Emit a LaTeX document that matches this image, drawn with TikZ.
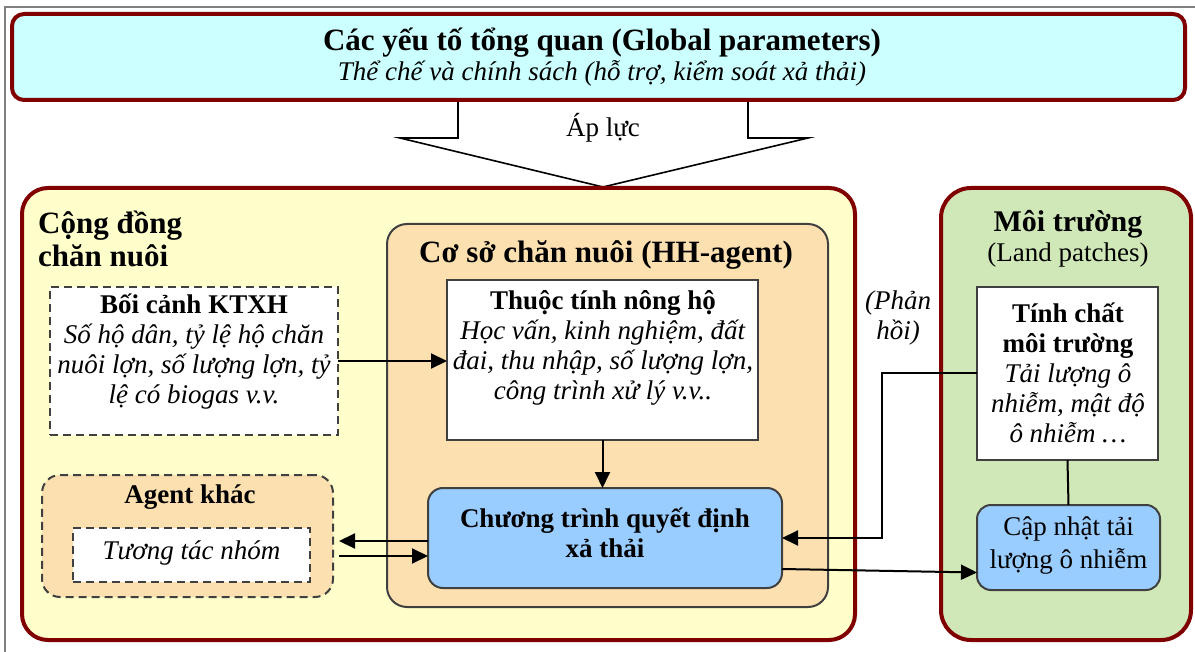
\documentclass[tikz,border=0pt]{standalone}
\usepackage{fontspec}
\setmainfont{Liberation Serif}
\usetikzlibrary{arrows.meta,calc}
\definecolor{dred}{RGB}{128,0,0}
\definecolor{cyanfill}{RGB}{204,255,255}
\definecolor{yelfill}{RGB}{255,255,204}
\definecolor{peach}{RGB}{252,224,176}
\definecolor{bluefill}{RGB}{153,204,255}
\definecolor{greenfill}{RGB}{208,232,184}
\definecolor{dgray}{RGB}{64,64,64}
\begin{document}
\begin{tikzpicture}[x=1pt,y=-1pt,
  base/.style={inner sep=0pt, outer sep=0pt},
  redbox/.style={base, draw=dred, line width=4pt, rounded corners=#1},
  graybox/.style={base, draw=dgray, line width=2pt, rounded corners=#1},
  whitebox/.style={base, draw=dgray, line width=2pt, fill=white},
  dashbox/.style={base, draw=dgray, line width=2pt, dash pattern=on 8pt off 5pt},
  txt/.style={inner sep=0pt, align=center, font=\fontsize{27}{30}\selectfont},
  head/.style={inner sep=0pt, align=center, font=\fontsize{31}{33}\selectfont\bfseries},
  arr/.style={line width=2pt, -{Triangle[length=16pt,width=15pt]}},
  link/.style={line width=2pt}
]
\useasboundingbox (0,0) rectangle (1195,652);
\fill[white] (0,0) rectangle (1195,652);
\draw[gray, line width=1.2pt] (5,652) -- (5,7) -- (1195,7);

% big pressure arrow
\draw[line width=1.6pt, fill=white, line join=miter]
  (458,100) -- (458,138) -- (400,138) -- (603,187) -- (808,138) -- (748,138) -- (748,100);
\node[txt] (ap) at (603,128) {Áp lực};

% top box
\node[redbox=12pt, fill=cyanfill, minimum width=1173pt, minimum height=86pt] (top) at (598.5,57) {};
\node[txt] (topT) at (602,57) {{\fontsize{31}{30}\selectfont\bfseries Các yếu tố tổng quan (Global parameters)}\\\textit{Thể chế và chính sách (hỗ trợ, kiểm soát xả thải)}};

% community box
\node[redbox=26pt, fill=yelfill, minimum width=833pt, minimum height=452pt] (comm) at (438.5,414) {};
\node[head, align=left, anchor=west] (commT) at (38,239) {Cộng đồng\\chăn nuôi};

% environment box
\node[redbox=30pt, fill=greenfill, minimum width=250pt, minimum height=452pt] (env) at (1066,414) {};
\node[txt] (envT) at (1068,239) {{\fontsize{30}{33}\selectfont\bfseries Môi trường}\\(Land patches)};

% HH-agent box
\node[graybox=20pt, fill=peach, minimum width=441pt, minimum height=383pt] (hh) at (607.5,415.5) {};
\node[head] (hhT) at (606,255) {Cơ sở chăn nuôi (HH-agent)};

% attributes box
\node[whitebox, minimum width=311pt, minimum height=160pt] (attr) at (602.5,360) {};
\node[txt] (attrT) at (603,348) {\textbf{Thuộc tính nông hộ}\\\textit{Học vấn, kinh nghiệm, đất}\\\textit{đai, thu nhập, số lượng lợn,}\\\textit{công trình xử lý v.v..}};

% decision box
\node[graybox=15pt, fill=bluefill, minimum width=354pt, minimum height=100pt] (dec) at (605,538) {};
\node[txt, font=\fontsize{27}{30}\selectfont\bfseries] (decT) at (605,533) {Chương trình quyết định\\xả thải};

% context box
\node[dashbox, fill=white, minimum width=288pt, minimum height=148pt] (ctx) at (194,361) {};
\node[txt] (ctxT) at (194,352) {\textbf{Bối cảnh KTXH}\\\textit{Số hộ dân, tỷ lệ hộ chăn}\\\textit{nuôi lợn, số lượng lợn, tỷ}\\\textit{lệ có biogas v.v.}};

% other agents
\node[dashbox, fill=peach, rounded corners=18pt, minimum width=291pt, minimum height=122pt] (other) at (187.5,536) {};
\node[txt, font=\fontsize{27}{30}\selectfont\bfseries] (otherT) at (190,497) {Agent khác};
\node[dashbox, fill=white, minimum width=237pt, minimum height=54pt] (grp) at (191.5,555) {};
\node[txt] (grpT) at (191.5,553) {\textit{Tương tác nhóm}};

% environment property box
\node[whitebox, minimum width=181pt, minimum height=173pt] (envp) at (1067.5,373.5) {};
\node[txt] (envpT) at (1068,373) {{\fontsize{27}{32}\selectfont\bfseries Tính chất}\\{\bfseries môi trường}\\\textit{Tải lượng ô}\\\textit{nhiễm, mật độ}\\\textit{ô nhiễm …}};

% update box
\node[graybox=14pt, fill=bluefill, minimum width=183pt, minimum height=85pt] (upd) at (1068.5,547.5) {};
\node[txt, font=\fontsize{27}{33}\selectfont] (updT) at (1068.5,546) {Cập nhật tải\\lượng ô nhiễm};

% feedback label
\node[txt] (fb) at (898,318) {\textit{(Phản}\\\textit{hồi)}};

% connectors
\draw[arr] (ctx.east) -- (attr.west |- ctx.east);
\draw[arr] (attr.south) -- (attr.south |- dec.north);
\coordinate (a1) at ($(dec.west)+(0,3)$);
\coordinate (a2) at ($(dec.west)+(0,18)$);
\draw[arr] (a1) -- ([xshift=6pt]a1 -| other.east);
\draw[arr] ([xshift=6pt]a2 -| other.east) -- (a2);
\draw[arr] (envp.west) -- ++(-95,0) |- (dec.east);
\draw[arr] ($(dec.east)+(0,31)$) -- ($(upd.west)+(0,25)$);
\draw[link] (envp.south) -- (upd.north);
\end{tikzpicture}
\end{document}
